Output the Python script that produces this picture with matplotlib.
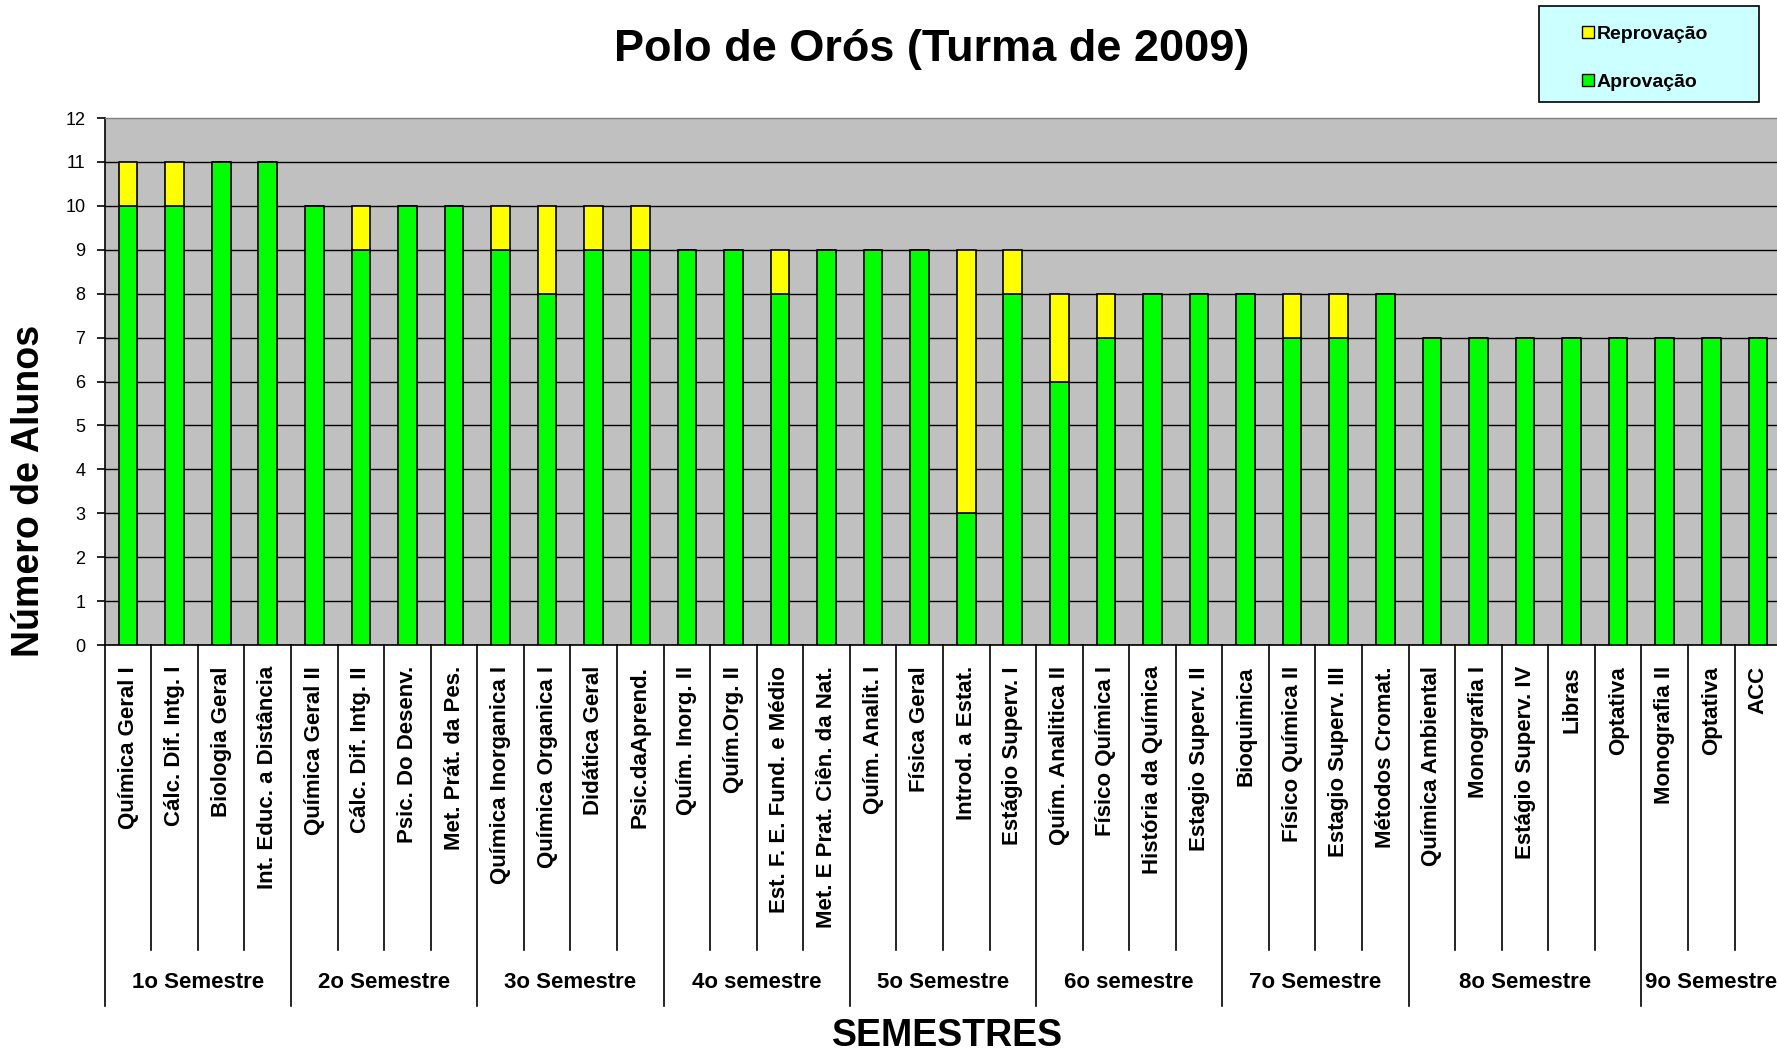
import matplotlib
matplotlib.use("Agg")
import matplotlib.pyplot as plt
from matplotlib.patches import Patch, Rectangle
import numpy as np

plt.rcParams['font.family'] = ['Liberation Sans', 'DejaVu Sans']

disciplinas = [
    'Química Geral I', 'Cálc. Dif. Intg. I', 'Biologia Geral', 'Int. Educ. a Distância',
    'Química Geral II', 'Cálc. Dif. Intg. II', 'Psic. Do Desenv.', 'Met. Prát. da Pes.',
    'Química Inorganica I', 'Química Organica I', 'Didática Geral', 'Psic.daAprend.',
    'Quím. Inorg. II', 'Quím.Org. II', 'Est. F. E. Fund. e Médio', 'Met. E Prat. Ciên. da Nat.',
    'Quím. Analit. I', 'Física Geral', 'Introd. a Estat.', 'Estágio Superv. I',
    'Quím. Analitica II', 'Físico Química I', 'História da Química', 'Estagio Superv. II',
    'Bioquimica', 'Físico Química II', 'Estagio Superv. III', 'Métodos Cromat.',
    'Química Ambiental', 'Monografia I', 'Estágio Superv. IV', 'Libras', 'Optativa',
    'Monografia II', 'Optativa', 'ACC',
]
aprovacao = [10, 10, 11, 11,
             10, 9, 10, 10,
             9, 8, 9, 9,
             9, 9, 8, 9,
             9, 9, 3, 8,
             6, 7, 8, 8,
             8, 7, 7, 8,
             7, 7, 7, 7, 7,
             7, 7, 7]
reprovacao = [1, 1, 0, 0,
              0, 1, 0, 0,
              1, 2, 1, 1,
              0, 0, 1, 0,
              0, 0, 6, 1,
              2, 1, 0, 0,
              0, 1, 1, 0,
              0, 0, 0, 0, 0,
              0, 0, 0]
semestres = ['1o Semestre', '2o Semestre', '3o Semestre', '4o semestre', '5o Semestre',
             '6o semestre', '7o Semestre', '8o Semestre', '9o Semestre']
n_por_semestre = [4, 4, 4, 4, 4, 4, 4, 5, 3]

VERDE = '#00FF00'
AMARELO = '#FFFF00'
CINZA = '#C0C0C0'

fig = plt.figure(figsize=(17.77, 10.52), dpi=100)
ax = fig.add_axes([0.05898, 0.38688, 0.94333, 0.50095])
ax.set_facecolor(CINZA)

x = np.arange(len(disciplinas))
ax.bar(x, aprovacao, width=0.4, color=VERDE, edgecolor='black', linewidth=1.2, zorder=3)
ax.bar(x, reprovacao, width=0.4, bottom=aprovacao, color=AMARELO, edgecolor='black',
       linewidth=1.2, zorder=3)

ax.set_xlim(-0.5, len(disciplinas) - 0.5)
ax.set_ylim(0, 12)
ax.set_yticks(range(0, 13))
ax.tick_params(axis='y', length=6, width=1.2, pad=8, labelsize=13, direction='out')
ax.set_xticks([])
ax.yaxis.grid(True, color='black', linewidth=1.0, zorder=1)
ax.set_axisbelow(True)
ax.get_ygridlines()[-1].set_visible(False)

ax.spines['right'].set_visible(False)
ax.spines['top'].set_color('#808080')
ax.spines['top'].set_linewidth(1)
ax.spines['left'].set_linewidth(1.2)
ax.spines['bottom'].set_linewidth(1.2)

tr = ax.get_xaxis_transform()
for i, nome in enumerate(disciplinas):
    ax.text(i, -0.04, nome, transform=tr, rotation=90, ha='center', va='top',
            fontsize=16, fontweight='bold')

# divisorias entre disciplinas e entre semestres
limites = np.cumsum([0] + n_por_semestre)
for b in range(len(disciplinas)):
    y_fim = -0.685 if b in limites else -0.579
    ax.plot([b - 0.5, b - 0.5], [0, y_fim], transform=tr, color='black',
            linewidth=1.2, clip_on=False)

for k, sem in enumerate(semestres):
    centro = (limites[k] + limites[k + 1]) / 2 - 0.5
    ax.text(centro, -0.641, sem, transform=tr, ha='center', va='center',
            fontsize=16, fontweight='bold')

fig.text(0.5245, 0.953, 'Polo de Orós (Turma de 2009)', ha='center', va='center',
         fontsize=32.5, fontweight='bold')
fig.text(0.0163, 0.5333, 'Número de Alunos', rotation=90, ha='center', va='center',
         fontsize=27, fontweight='bold')
fig.text(0.533, 0.006, 'SEMESTRES', ha='center', va='baseline',
         fontsize=27, fontweight='bold')

# caixa da legenda
fig.add_artist(Rectangle((1539 / 1777, 1 - 102 / 1052), 220 / 1777, 96 / 1052,
                         transform=fig.transFigure, facecolor='#CCFFFF',
                         edgecolor='black', linewidth=1.2, zorder=4))
handles = [Patch(facecolor=AMARELO, edgecolor='black', label='Reprovação'),
           Patch(facecolor=VERDE, edgecolor='black', label='Aprovação')]
leg = fig.legend(handles=handles, loc='upper left', bbox_to_anchor=(1582 / 1777, 1 - 26 / 1052),
                 frameon=False, prop={'weight': 'bold', 'size': 14},
                 handlelength=0.6, handleheight=0.6, handletextpad=0.15,
                 labelspacing=1.58, borderpad=0, borderaxespad=0)
leg.set_zorder(5)

plt.savefig('out.png', dpi=100)
